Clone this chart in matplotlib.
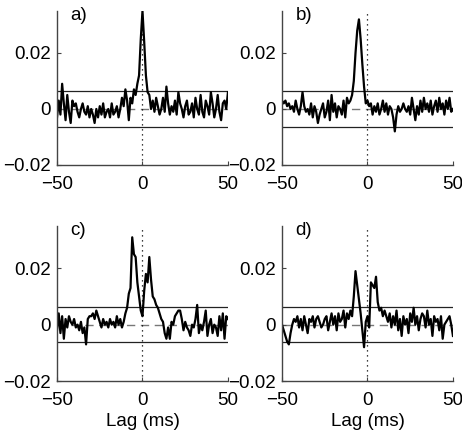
import numpy as np
import matplotlib
matplotlib.use('Agg')
import matplotlib.pyplot as plt

plt.rcParams['font.family'] = ['Liberation Sans', 'DejaVu Sans']

# Lag in ms, one value per ms
lags = list(range(-50, 51))

# Cross-correlation values in units of 1e-3
corr_a = [-3, 3, -2, 9, 2, -4, 5, -1, -5, 3,
          1, 2, -1, -3, 0, 2, -1, -2, 1, -3,
          0, -2, -5, 0, -3, 1, -2, 2, -3, -1,
          0, -3, 2, -2, -1, 1, -3, 0, 4, 1,
          7, 3, -4, 4, 2, 7, 5, 9, 12, 25,
          35,
          24, 12, 6, 5, 0, 3, -1, 4, 1, -2,
          0, 4, -1, 8, 2, -2, 1, -1, 3, -2,
          6, 2, 0, -3, 1, 3, -2, -1, 2, -3,
          4, 0, -2, 5, -1, -3, 3, 1, -2, 6,
          2, -3, 0, 5, -1, -4, 2, 3, 0, 6]

corr_b = [3, 2, 3, 1, 2, 0, 1, -1, 3, 0,
          -2, 1, 6, 1, -1, 0, -2, 2, -3, 1,
          -1, -5, -2, 0, 2, -3, -1, 3, -4, 5,
          -1, 2, -3, 1, 0, -2, 3, -3, 4, 2,
          3, 5, 10, 20, 28, 32, 25, 16, 8, 2,
          3,
          1, 2, -2, 1, -1, 2, -2, 0, 3, -1,
          2, -2, 1, 0, -3, -8, -2, 1, -1, 0,
          2, 0, -1, 1, -2, 4, 0, -4, 1, -2,
          3, -1, 4, 0, 2, -1, 3, -2, 1, 3,
          -1, 4, 0, 2, -2, 3, 0, 4, -1, 0]

corr_c = [-2, 4, -3, 3, -5, 2, -1, 3, 1, 0,
          2, -1, 0, -2, 1, -3, -1, -7, 2, 3,
          3, 4, 2, 5, 3, 1, -1, 2, 0, 1,
          -1, 2, 0, 1, -1, 3, 0, 2, -1, 1,
          4, 6, 11, 13, 31, 25, 24, 15, 10, 5,
          3,
          12, 18, 15, 24, 16, 10, 9, 7, 6, 4,
          2, 1, -3, -5, -1, -5, 1, 0, 3, 4,
          5, 5, 2, -2, 1, -1, -2, -4, 0, -1,
          2, 7, -3, 0, -2, 1, 5, -4, 0, 2,
          -3, 0, -1, -4, 3, -2, 4, -5, 3, 2]

corr_d = [0, -2, -4, -6, -7, -3, 0, 2, 1, 3,
          -1, 2, -2, 3, 0, -3, 2, 1, 3, -1,
          2, 3, 1, -1, 0, 2, 3, -2, 1, 4,
          0, 3, -2, 4, 1, 2, 5, -1, 4, 2,
          5, 3, 10, 19, 14, 9, 4, -2, -8, 1,
          3,
          -1, 15, 14, 13, 17, 8, 5, 6, 3, 5,
          3, 1, 4, -1, 3, 0, 5, -2, 2, -4,
          3, 0, 2, -3, 4, 1, 6, 0, 3, -2,
          2, 4, 3, -1, 5, 0, 2, -4, 3, 1,
          2, -2, 3, -5, 0, 1, 2, 3, 0, -4]

panel_labels = ['a)', 'b)', 'c)', 'd)']
threshold = 0.0063

xticks = [-50, 0, 50]
xticklabels = ['\u221250', '0', '50']
yticks = [-0.02, 0, 0.02]
yticklabels = ['\u22120.02', '0', '0.02']

fig = plt.figure(figsize=(4.62, 4.36), dpi=100)

# axes positions [left, bottom, width, height] in figure fraction
positions = [
    [0.1234, 0.6216, 0.370, 0.3532],
    [0.6104, 0.6216, 0.370, 0.3532],
    [0.1234, 0.1261, 0.370, 0.3555],
    [0.6104, 0.1261, 0.370, 0.3555],
]

data = [corr_a, corr_b, corr_c, corr_d]

for i, (pos, vals, lab) in enumerate(zip(positions, data, panel_labels)):
    ax = fig.add_axes(pos)
    y = np.array(vals) * 1e-3

    ax.axhline(threshold, color='#222222', lw=0.9, zorder=1)
    ax.axhline(-threshold, color='#222222', lw=0.9, zorder=1)
    ax.axhline(0, color='#777777', lw=1.0, dashes=(6, 4), zorder=1)
    ax.axvline(0, color='black', lw=0.9, linestyle=(0, (1, 3)), zorder=1)
    ax.plot(lags, y, color='black', lw=1.6, zorder=2)

    ax.set_xlim(-50, 50)
    ax.set_ylim(-0.02, 0.035)
    ax.set_xticks(xticks)
    ax.set_xticklabels(xticklabels)
    ax.set_yticks(yticks)
    ax.set_yticklabels(yticklabels)

    for side in ['top', 'right']:
        ax.spines[side].set_visible(False)
    for side in ['left', 'bottom']:
        ax.spines[side].set_color('#444444')
        ax.spines[side].set_linewidth(1.0)

    ax.tick_params(axis='both', direction='in', length=3, width=0.8,
                   color='#444444', labelsize=13.5)
    ax.tick_params(axis='x', pad=8)
    ax.tick_params(axis='y', pad=4.5)

    ax.text(-42, 0.0335, lab, fontsize=13.5, ha='left', va='center')

    if i >= 2:
        ax.set_xlabel('Lag (ms)', fontsize=13.5, labelpad=3)

fig.savefig('out.png', dpi=100)
